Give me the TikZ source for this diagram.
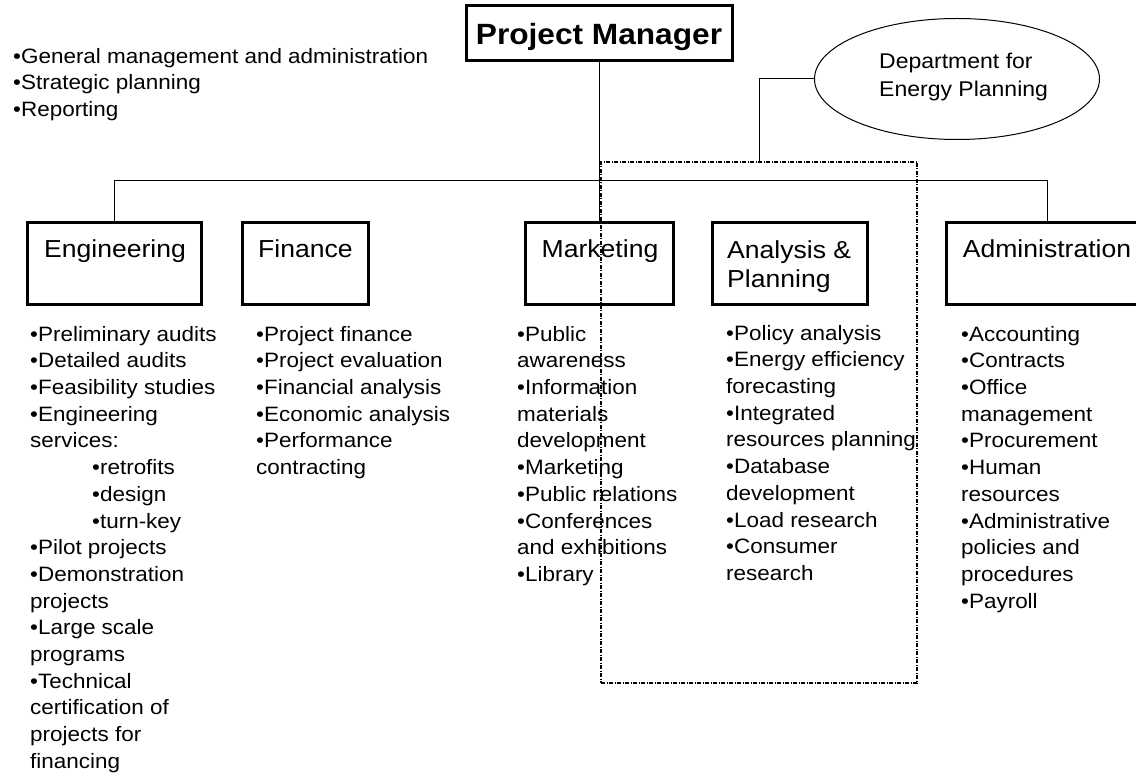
\documentclass[tikz,border=0pt]{standalone}
\usepackage{fontspec}
\setmainfont{Liberation Sans}[FakeStretch=1.08]
\usetikzlibrary{shapes.geometric}
\begin{document}
\begin{tikzpicture}[x=1pt,y=-1pt,
  box/.style={draw, line width=3pt, rectangle, inner sep=0pt, minimum height=82},
  lab/.style={anchor=base, inner sep=0pt, font=\fontsize{24.6}{29}\selectfont},
  blist/.style={anchor=north west, inner sep=0pt, align=left, font=\fontsize{20.8}{26.7}\selectfont},
  conn/.style={line width=1pt, draw=black},
  grpbox/.style={draw, line width=1.5pt, dash pattern=on 4pt off 1.5pt on 1pt off 1.5pt, inner sep=0pt}]
\useasboundingbox (0,0) rectangle (1136,775);

% top box
\node[box, minimum width=266, minimum height=55] (pm) at (599,33.5) {};
\node[anchor=base, inner sep=0pt, font=\fontsize{29.3}{34}\selectfont\bfseries] (pmt) at (599,45) {Project Manager};

\node[blist] (gen) at (13,44.3) {\strut•General management and administration\\•Strategic planning\\•Reporting};

% department ellipse
\node[ellipse, draw, line width=1pt, minimum width=285, minimum height=121, inner sep=0pt] (dep) at (957,79) {};
\node[anchor=north west, inner sep=0pt, align=left, font=\fontsize{21.3}{28}\selectfont] (dept) at (879,48.4) {\strut Department for\\Energy Planning};

% department boxes
\node[box, minimum width=174] (eng) at (114,264) {};
\node[box, minimum width=126] (fin) at (305,264) {};
\node[box, minimum width=148] (mkt) at (599,264) {};
\node[box, minimum width=155] (anp) at (789.5,264) {};
\node[box, minimum width=202] (adm) at (1047,264) {};

\node[lab] (engt) at (115,258) {Engineering};
\node[lab] (fint) at (305.5,258) {Finance};
\node[lab] (mktt) at (600,258) {Marketing};
\node[anchor=north west, inner sep=0pt, align=left, font=\fontsize{24.6}{29}\selectfont] (anpt) at (727,237.7) {\strut Analysis \&\\Planning};
\node[lab] (admt) at (1047,258) {Administration};

% lists
\node[blist] (engl) at (30,322.3) {\strut•Preliminary audits\\•Detailed audits\\•Feasibility studies\\•Engineering\\services:\\\hspace*{62pt}•retrofits\\\hspace*{62pt}•design\\\hspace*{62pt}•turn-key\\•Pilot projects\\•Demonstration\\projects\\•Large scale\\programs\\•Technical\\certification of\\projects for\\financing};
\node[blist] (finl) at (256,322.3) {\strut•Project finance\\•Project evaluation\\•Financial analysis\\•Economic analysis\\•Performance\\contracting};
\node[blist] (mktl) at (517,322.3) {\strut•Public\\awareness\\•Information\\materials\\development\\•Marketing\\•Public relations\\•Conferences\\and exhibitions\\•Library};
\node[blist] (anpl) at (726,321.3) {\strut•Policy analysis\\•Energy efficiency\\forecasting\\•Integrated\\resources planning\\•Database\\development\\•Load research\\•Consumer\\research};
\node[blist] (adml) at (961,322.3) {\strut•Accounting\\•Contracts\\•Office\\management\\•Procurement\\•Human\\resources\\•Administrative\\policies and\\procedures\\•Payroll};

% connectors
\coordinate (bus) at (0,181);
\draw[conn] (pm.south) -- (mkt.north);
\draw[conn] (eng.north) -- (eng.north |- bus) -- (adm.north |- bus) -- (adm.north);

% dashed group
\node[grpbox, minimum width=316, minimum height=521] (grp) at (759,422.5) {};
\draw[conn] (dep.west) -| (grp.north);
\end{tikzpicture}
\end{document}
